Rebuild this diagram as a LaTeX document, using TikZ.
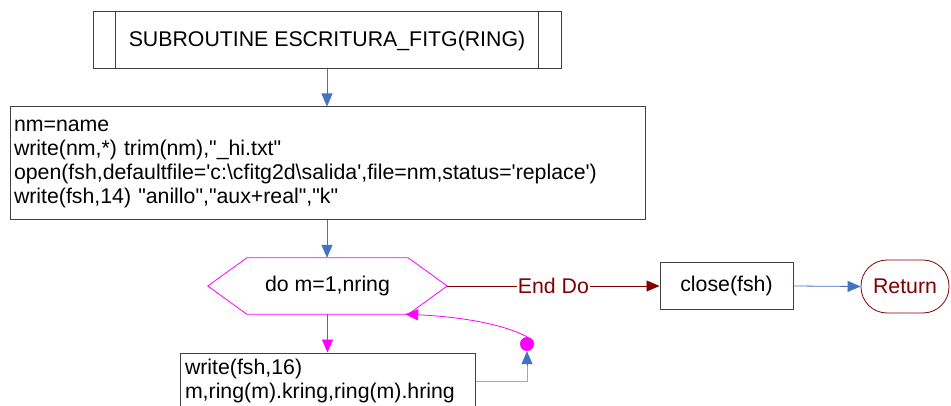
\documentclass[tikz,border=0pt]{standalone}
\usepackage{fontspec}
\setmainfont{Liberation Sans}
\usepackage{tikz}
\usetikzlibrary{arrows.meta,positioning,calc}
\definecolor{flowblue}{RGB}{68,114,196}
\definecolor{paleblue}{RGB}{140,170,220}
\definecolor{loopmag}{RGB}{255,0,255}
\definecolor{enddored}{RGB}{128,0,0}
\definecolor{boxgray}{RGB}{64,64,64}
\newcommand{\dq}{\textquotedbl}
\newcommand{\sq}{\textquotesingle}

\begin{document}
\begin{tikzpicture}[
x=1pt,y=-1pt,
font=\fontsize{21.3}{24}\selectfont,
proc/.style={
  draw=boxgray,
  line width=1pt,
  rectangle,
  inner sep=0pt
  },
code/.style={
  proc,
  align=left,
  inner xsep=4pt
  },
term/.style={
  draw=enddored,
  text=enddored,
  line width=0.8pt,
  rounded corners=26pt,
  minimum width=88pt,
  minimum height=53pt
  },
flow/.style={
  draw=flowblue,
  line width=0.8pt,
  ->
  },
loopline/.style={
  draw=loopmag,
  line width=0.8pt
  },
>={Triangle[length=13pt,width=11pt]}
]
\useasboundingbox (0,0) rectangle (951,406);
\clip (0,0) rectangle (951,406);

% nodes
\node[proc,minimum width=468pt,minimum height=57pt] (sub) at (327,40.5) {SUBROUTINE ESCRITURA\_FITG(RING)};
\draw[boxgray,line width=1pt] ([xshift=23pt]sub.north west) -- ([xshift=23pt]sub.south west)
  ([xshift=-23pt]sub.north east) -- ([xshift=-23pt]sub.south east);

\node[code,text width=627pt,minimum height=113pt] (open) at (327.5,163.5)
  {nm=name\\
   write(nm,*) trim(nm),\dq\_hi.txt\dq\\
   open(fsh,defaultfile=\sq c:\textbackslash cfitg2d\textbackslash salida\sq,file=nm,status=\sq replace\sq)\\
   write(fsh,14) \dq anillo\dq,\dq aux+real\dq,\dq k\dq};

\node[minimum width=239pt,minimum height=56pt,inner sep=0pt] (do) at (327.5,286) {do m=1,nring};
\draw[loopline] (do.west) -- ([xshift=39pt]do.north west) -- ([xshift=-39pt]do.north east)
  -- (do.east) -- ([xshift=-39pt]do.south east) -- ([xshift=39pt]do.south west) -- cycle;

\node[code,text width=285pt,inner xsep=5pt,minimum height=56pt] (wr) at (327.5,381)
  {write(fsh,16)\\
   m,ring(m).kring,ring(m).hring};

\node[circle,fill=loopmag,minimum size=14pt,inner sep=0pt] (dot) at (527,344) {};

\node[proc,minimum width=133pt,minimum height=46pt] (close) at (726.5,286) {close(fsh)};
\node[term] (ret) at (905,286.5) {Return};

% connectors
\draw[flow] (sub.south) -- (open.north -| sub.south);
\draw[flow] (open.south -| sub.south) -- (do.north -| sub.south);
\draw[loopline,->] (do.south) -- (wr.north);
\draw[loopline,->] (dot.north) .. controls (505,325) and (465,317) .. ([xshift=-42pt]do.south east);
\draw[paleblue,line width=0.8pt] (wr.east) -| ([yshift=-15pt]dot.south);
\draw[flow] ([yshift=-15pt]dot.south) -- (dot.south);
\draw[enddored,line width=0.8pt,->] (do.east) -- node[fill=white,inner sep=1pt,text=enddored] {End Do} (close.west);
\draw[flow] (close.east) -- (ret.west);
\end{tikzpicture}
\end{document}
